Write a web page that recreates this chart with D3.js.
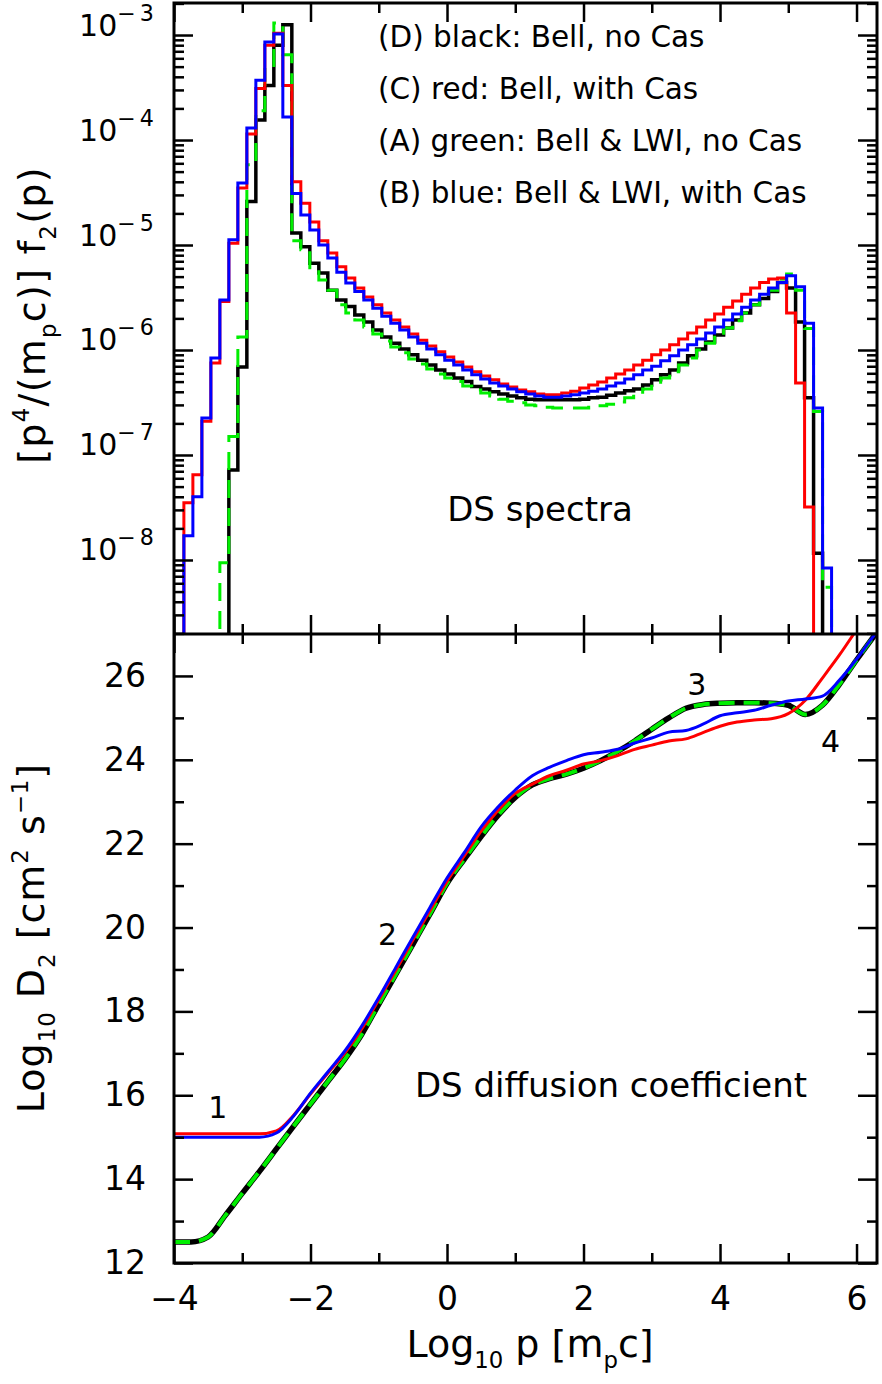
<!DOCTYPE html>
<html>
<head>
<meta charset="utf-8">
<script src="https://cdn.jsdelivr.net/npm/d3@7"></script>
<style>
  body { margin: 0; background: #fff; }
  text { font-family: "DejaVu Sans", sans-serif; fill: #000; }
</style>
</head>
<body>
<svg id="chart" width="882" height="1384"></svg>
<script>
// ---- data -------------------------------------------------------------
// DS spectra: histogram bins in log10 p (left edge of first bin, bin width)
var binStart = -3.987;
var binWidth = 0.1318;

var specBlack = [0,0,0,0,0,0, 7.2e-8,6.9e-7,2.6e-5,1.55e-4,3.3e-4,8.0e-4,1.25e-3,1.3e-5,9.6e-6,6.7e-6,
  5.4e-6,3.7e-6,3.0e-6,2.6e-6,2.15e-6,1.85e-6,1.55e-6,1.33e-6,1.16e-6,1.02e-6,9.0e-7,8.0e-7,7.2e-7,
  6.45e-7,5.9e-7,5.4e-7,5.0e-7,4.5e-7,4.25e-7,4.0e-7,3.8e-7,3.65e-7,3.5e-7,3.4e-7,3.35e-7,3.35e-7,
  3.35e-7,3.35e-7,3.35e-7,3.4e-7,3.5e-7,3.55e-7,3.7e-7,3.9e-7,4.1e-7,4.25e-7,4.65e-7,5.2e-7,5.8e-7,
  6.45e-7,7.5e-7,8.8e-7,1.02e-6,1.19e-6,1.39e-6,1.62e-6,1.93e-6,2.25e-6,2.7e-6,3.1e-6,3.6e-6,4.4e-6,
  3.9e-6,1.85e-6,3.5e-7,1.16e-8, 0,0,0,0,0,0];

var specRed = [0, 3.5e-8,6.5e-8,2.1e-7,7.5e-7,2.9e-6,1.04e-5,3.5e-5,1.14e-4,3.1e-4,8.0e-4,1.04e-3,3.3e-4,
  4.0e-5,2.5e-5,1.66e-5,1.1e-5,8.4e-6,6.2e-6,4.85e-6,3.9e-6,3.2e-6,2.7e-6,2.25e-6,1.93e-6,1.66e-6,
  1.42e-6,1.24e-6,1.09e-6,9.6e-7,8.6e-7,7.7e-7,6.9e-7,6.2e-7,5.65e-7,5.2e-7,4.75e-7,4.45e-7,4.15e-7,
  4.0e-7,3.8e-7,3.75e-7,3.75e-7,3.9e-7,4.05e-7,4.35e-7,4.65e-7,4.95e-7,5.4e-7,5.9e-7,6.45e-7,7.2e-7,
  8.0e-7,9.0e-7,1.0e-6,1.12e-6,1.27e-6,1.45e-6,1.66e-6,1.93e-6,2.2e-6,2.56e-6,2.93e-6,3.4e-6,3.9e-6,
  4.4e-6,4.75e-6,4.85e-6,2.25e-6,4.85e-7,3.2e-8, 0,0,0,0,0,0,0];

var specGreen = [0,0,0,0,0, 9.4e-9,1.5e-7,1.33e-6,5.8e-5,1.9e-4,4.7e-4,1.3e-3,6.5e-4,1.1e-5,9.0e-6,5.8e-6,
  4.65e-6,3.7e-6,2.7e-6,2.25e-6,1.93e-6,1.66e-6,1.42e-6,1.22e-6,1.07e-6,9.4e-7,8.2e-7,7.35e-7,6.6e-7,
  5.9e-7,5.4e-7,5.0e-7,4.55e-7,4.15e-7,3.9e-7,3.65e-7,3.4e-7,3.25e-7,3.15e-7,3.0e-7,2.95e-7,2.85e-7,
  2.8e-7,2.8e-7,2.8e-7,2.8e-7,2.85e-7,2.95e-7,3.05e-7,3.2e-7,3.5e-7,3.8e-7,4.25e-7,4.75e-7,5.4e-7,
  6.2e-7,7.2e-7,8.4e-7,1.0e-6,1.16e-6,1.39e-6,1.62e-6,1.9e-6,2.25e-6,2.7e-6,3.2e-6,3.7e-6,4.75e-6,
  5.3e-6,3.7e-6,1.6e-6,2.6e-7,5.5e-9, 0,0,0,0,0];

var specBlue = [0, 1.7e-8,4.0e-8,2.25e-7,8.4e-7,3.0e-6,1.12e-5,3.9e-5,1.3e-4,3.7e-4,8.6e-4,1.02e-3,1.66e-4,
  3.1e-5,1.93e-5,1.39e-5,1.0e-5,7.5e-6,5.5e-6,4.35e-6,3.6e-6,3.0e-6,2.5e-6,2.1e-6,1.8e-6,1.55e-6,
  1.33e-6,1.16e-6,1.02e-6,9.0e-7,8.0e-7,7.2e-7,6.45e-7,5.8e-7,5.3e-7,4.85e-7,4.55e-7,4.25e-7,4.0e-7,
  3.8e-7,3.65e-7,3.55e-7,3.55e-7,3.65e-7,3.75e-7,3.9e-7,4.05e-7,4.25e-7,4.55e-7,4.85e-7,5.3e-7,5.8e-7,
  6.45e-7,7.0e-7,7.9e-7,8.8e-7,1.0e-6,1.12e-6,1.27e-6,1.45e-6,1.66e-6,1.93e-6,2.2e-6,2.55e-6,3.0e-6,
  3.4e-6,3.9e-6,4.4e-6,5.1e-6,4.0e-6,1.8e-6,2.8e-7,8.4e-9, 0,0,0,0,0];

// DS diffusion coefficient, log10 D2 sampled at log10 p
var diffP = [-4,-3.75,-3.5,-3.25,-3,-2.75,-2.5,-2.25,-2,-1.75,-1.5,-1.25,-1,-0.75,-0.5,-0.25,
  0,0.25,0.5,0.75,1,1.25,1.5,1.75,2,2.25,2.5,2.75,3,3.25,3.5,3.75,4,4.25,4.5,4.75,5,5.25,5.5,5.75,6,6.25,6.3];

var diffBlack = [12.5,12.5,12.62,13.13,13.66,14.18,14.72,15.26,15.79,16.32,16.85,17.45,18.17,18.88,19.6,20.32,
  21.05,21.62,22.17,22.68,23.1,23.4,23.55,23.66,23.8,23.98,24.2,24.45,24.73,25.0,25.23,25.32,25.35,25.36,
  25.36,25.35,25.3,25.08,25.3,25.8,26.38,26.94,27.05];
var diffGreen = diffBlack.slice();
var diffRed = [15.08,15.08,15.08,15.08,15.08,15.08,15.15,15.52,16.03,16.52,17.0,17.58,18.28,18.98,19.7,
  20.4,21.1,21.7,22.3,22.8,23.2,23.42,23.62,23.75,23.9,23.98,24.1,24.25,24.35,24.45,24.5,24.65,
  24.8,24.9,24.95,24.98,25.1,25.42,25.95,26.5,27.1,27.7,27.8];
var diffBlue = [15.0,15.0,15.0,15.0,15.0,15.0,15.1,15.5,16.05,16.55,17.05,17.65,18.33,19.05,19.77,20.48,
  21.18,21.78,22.4,22.88,23.28,23.62,23.82,23.98,24.12,24.18,24.25,24.4,24.52,24.66,24.7,24.85,25.05,
  25.12,25.18,25.3,25.4,25.45,25.52,25.9,26.4,26.95,27.05];

var legendLabels = ["(D) black: Bell, no Cas", "(C) red: Bell, with Cas",
  "(A) green: Bell & LWI, no Cas", "(B) blue: Bell & LWI, with Cas"];
var xMajorTicks = [-4, -2, 0, 2, 4, 6];
var xMinorTicks = [-3, -1, 1, 3, 5];
var specMajorTicks = [1e-8, 1e-7, 1e-6, 1e-5, 1e-4, 1e-3];
var diffMajorTicks = [12, 14, 16, 18, 20, 22, 24, 26];
var diffMinorTicks = [13, 15, 17, 19, 21, 23, 25];

// ---- layout ------------------------------------------------------------
var svg = d3.select("#chart");
var plotLeft = 174, plotRight = 877, topY = 3, midY = 634, bottomY = 1263;
var majorLen = 19, minorLen = 10;

var x = d3.scaleLinear().domain([-4, 6.3]).range([plotLeft, plotRight]);
var ySpec = d3.scaleLog().domain([Math.pow(10, -8.705), Math.pow(10, -2.695)]).range([midY, topY]);
var yDiff = d3.scaleLinear().domain([12, 27]).range([bottomY, midY]);

var defs = svg.append("defs");
defs.append("clipPath").attr("id", "clipTop").append("rect")
  .attr("x", plotLeft).attr("y", topY).attr("width", plotRight - plotLeft).attr("height", midY - topY);
defs.append("clipPath").attr("id", "clipBottom").append("rect")
  .attr("x", plotLeft).attr("y", midY).attr("width", plotRight - plotLeft).attr("height", bottomY - midY);

// text with super/subscripts: parts = [[string, "n"|"sup"|"sub"], ...]
function richText(sel, parts, size, small, supShift, subShift) {
  small = small || 0.6;
  supShift = supShift || 0.42;
  subShift = subShift || 0.3;
  var shift = 0;
  parts.forEach(function(p) {
    var target = p[1] == "sup" ? -supShift * size : (p[1] == "sub" ? subShift * size : 0);
    var t = sel.append("tspan").text(p[0]).attr("dy", target - shift);
    if (p[1] != "n") t.attr("font-size", size * small);
    shift = target;
  });
}

// ---- top panel: spectra (step histograms) -----------------------------
var specSeries = [
  {values: specBlack, color: "#000000", width: 3.5, dash: null},
  {values: specGreen, color: "#00ee00", width: 3, dash: "18,10"},
  {values: specRed, color: "#ff0000", width: 3, dash: null},
  {values: specBlue, color: "#0000ff", width: 3, dash: null}
];

var stepLine = d3.line()
  .x(function(d) { return x(d.p); })
  .y(function(d) { return d.v > 0 ? ySpec(d.v) : midY + 6; })
  .curve(d3.curveStepAfter);

var gTop = svg.append("g").attr("clip-path", "url(#clipTop)");
specSeries.forEach(function(s) {
  var pts = s.values.map(function(v, i) { return {p: binStart + i * binWidth, v: v}; });
  pts.push({p: binStart + s.values.length * binWidth, v: s.values[s.values.length - 1]});
  gTop.append("path")
    .datum(pts)
    .attr("d", stepLine)
    .attr("fill", "none")
    .attr("stroke", s.color)
    .attr("stroke-width", s.width)
    .attr("stroke-dasharray", s.dash);
});

// ---- bottom panel: diffusion coefficient ------------------------------
var diffSeries = [
  {values: diffBlack, color: "#000000", width: 5.5, dash: null},
  {values: diffGreen, color: "#00ee00", width: 4, dash: "16,9"},
  {values: diffRed, color: "#ff0000", width: 3, dash: null},
  {values: diffBlue, color: "#0000ff", width: 3, dash: null}
];

var diffLine = d3.line()
  .x(function(d, i) { return x(diffP[i]); })
  .y(function(d) { return yDiff(d); })
  .curve(d3.curveMonotoneX);

var gBottom = svg.append("g").attr("clip-path", "url(#clipBottom)");
diffSeries.forEach(function(s) {
  gBottom.append("path")
    .datum(s.values)
    .attr("d", diffLine)
    .attr("fill", "none")
    .attr("stroke", s.color)
    .attr("stroke-width", s.width)
    .attr("stroke-linejoin", "round")
    .attr("stroke-dasharray", s.dash);
});

// ---- axes ---------------------------------------------------------------
function styleAxis(g) {
  g.select(".domain").remove();
  g.selectAll(".tick line").attr("stroke", "#000").attr("stroke-width", 2.5);
}

function xAxes(yPos, dir) {
  // dir = +1 ticks point down, -1 ticks point up
  var gen = dir > 0 ? d3.axisTop : d3.axisBottom;
  svg.append("g").attr("transform", "translate(0," + yPos + ")")
    .call(gen(x).tickValues(xMajorTicks).tickSize(-majorLen).tickSizeOuter(0).tickFormat(""))
    .call(styleAxis);
  svg.append("g").attr("transform", "translate(0," + yPos + ")")
    .call(gen(x).tickValues(xMinorTicks).tickSize(-minorLen).tickSizeOuter(0).tickFormat(""))
    .call(styleAxis);
}
xAxes(topY, 1);
xAxes(midY, -1);
xAxes(midY, 1);

// bottom x axis with labels
svg.append("g").attr("transform", "translate(0," + bottomY + ")")
  .call(d3.axisBottom(x).tickValues(xMajorTicks).tickSize(-majorLen).tickSizeOuter(0).tickPadding(24))
  .call(styleAxis)
  .selectAll(".tick text").attr("font-size", 33).attr("font-family", "DejaVu Sans");
svg.append("g").attr("transform", "translate(0," + bottomY + ")")
  .call(d3.axisBottom(x).tickValues(xMinorTicks).tickSize(-minorLen).tickSizeOuter(0).tickFormat(""))
  .call(styleAxis);

// spectra y axes (log)
var specMinor = ySpec.ticks().filter(function(t) {
  return Math.abs(Math.log10(t) - Math.round(Math.log10(t))) > 1e-6;
});
svg.append("g").attr("transform", "translate(" + plotLeft + ",0)")
  .call(d3.axisLeft(ySpec).tickValues(specMajorTicks).tickSize(-majorLen).tickSizeOuter(0).tickPadding(16))
  .call(styleAxis)
  .selectAll(".tick text")
  .each(function(d) {
    var t = d3.select(this).text("").attr("font-size", 30).attr("dy", 10);
    richText(t, [["10", "n"], ["\u2212" + Math.round(-Math.log10(d)), "sup"]], 30, 0.74, 0.5);
    t.select("tspan:last-child").attr("letter-spacing", 4);
  });
svg.append("g").attr("transform", "translate(" + plotLeft + ",0)")
  .call(d3.axisLeft(ySpec).tickValues(specMinor).tickSize(-minorLen).tickSizeOuter(0).tickFormat(""))
  .call(styleAxis);
svg.append("g").attr("transform", "translate(" + plotRight + ",0)")
  .call(d3.axisRight(ySpec).tickValues(specMajorTicks).tickSize(-majorLen).tickSizeOuter(0).tickFormat(""))
  .call(styleAxis);
svg.append("g").attr("transform", "translate(" + plotRight + ",0)")
  .call(d3.axisRight(ySpec).tickValues(specMinor).tickSize(-minorLen).tickSizeOuter(0).tickFormat(""))
  .call(styleAxis);

// diffusion y axes
svg.append("g").attr("transform", "translate(" + plotLeft + ",0)")
  .call(d3.axisLeft(yDiff).tickValues(diffMajorTicks).tickSize(-majorLen).tickSizeOuter(0).tickPadding(28))
  .call(styleAxis)
  .selectAll(".tick text").attr("font-size", 33).attr("font-family", "DejaVu Sans");
svg.append("g").attr("transform", "translate(" + plotLeft + ",0)")
  .call(d3.axisLeft(yDiff).tickValues(diffMinorTicks).tickSize(-minorLen).tickSizeOuter(0).tickFormat(""))
  .call(styleAxis);
svg.append("g").attr("transform", "translate(" + plotRight + ",0)")
  .call(d3.axisRight(yDiff).tickValues(diffMajorTicks).tickSize(-majorLen).tickSizeOuter(0).tickFormat(""))
  .call(styleAxis);
svg.append("g").attr("transform", "translate(" + plotRight + ",0)")
  .call(d3.axisRight(yDiff).tickValues(diffMinorTicks).tickSize(-minorLen).tickSizeOuter(0).tickFormat(""))
  .call(styleAxis);

// frame
svg.append("rect")
  .attr("x", plotLeft).attr("y", topY)
  .attr("width", plotRight - plotLeft).attr("height", bottomY - topY)
  .attr("fill", "none").attr("stroke", "#000").attr("stroke-width", 3);
svg.append("line")
  .attr("x1", plotLeft).attr("x2", plotRight).attr("y1", midY).attr("y2", midY)
  .attr("stroke", "#000").attr("stroke-width", 3);

// ---- titles and annotations -------------------------------------------
richText(svg.append("text")
  .attr("transform", "translate(45,315) rotate(-90)")
  .attr("text-anchor", "middle").attr("font-size", 38).attr("letter-spacing", 1.3),
  [["[p", "n"], ["4", "sup"], ["/(m", "n"], ["p", "sub"], ["c)] f", "n"], ["2", "sub"], ["(p)", "n"]], 38);

richText(svg.append("text")
  .attr("transform", "translate(44,938) rotate(-90)")
  .attr("text-anchor", "middle").attr("font-size", 38).attr("letter-spacing", 1),
  [["Log", "n"], ["10", "sub"], [" D", "n"], ["2", "sub"], [" [cm", "n"], ["2", "sup"], [" s", "n"], ["\u22121", "sup"], ["]", "n"]], 38);

richText(svg.append("text")
  .attr("x", 530).attr("y", 1357)
  .attr("text-anchor", "middle").attr("font-size", 38),
  [["Log", "n"], ["10", "sub"], [" p [m", "n"], ["p", "sub"], ["c]", "n"]], 38);

svg.selectAll(".legendText")
  .data(legendLabels)
  .enter().append("text")
  .attr("class", "legendText")
  .attr("x", 378)
  .attr("y", function(d, i) { return 47 + i * 52; })
  .attr("font-size", 29.5)
  .text(function(d) { return d; });

svg.append("text").attr("x", 540).attr("y", 521).attr("text-anchor", "middle")
  .attr("font-size", 34).text("DS spectra");
svg.append("text").attr("x", 611).attr("y", 1097).attr("text-anchor", "middle")
  .attr("font-size", 34).text("DS diffusion coefficient");

var curveLabels = [
  {t: "1", p: -3.36, y: 1118},
  {t: "2", p: -0.87, y: 945},
  {t: "3", p: 3.66, y: 695},
  {t: "4", p: 5.62, y: 752}
];
svg.selectAll(".curveLabel")
  .data(curveLabels)
  .enter().append("text")
  .attr("class", "curveLabel")
  .attr("x", function(d) { return x(d.p); })
  .attr("y", function(d) { return d.y; })
  .attr("text-anchor", "middle")
  .attr("font-size", 30)
  .text(function(d) { return d.t; });
</script>
</body>
</html>
